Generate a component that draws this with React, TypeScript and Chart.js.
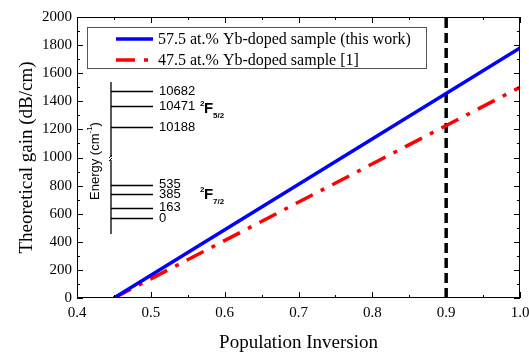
import React, { useEffect, useRef } from "react";
import { Chart, registerables } from "chart.js";
Chart.register(...registerables);

const seriesLabels = ["57.5 at.% Yb-doped sample (this work)", "47.5 at.% Yb-doped sample [1]"];
const inversion = [0.45, 1.0];
const gainThisWork = [0, 1780];
const gainRef = [0, 1500];
const markerX = [0.9, 0.9];
const markerY = [0, 2000];
const upperLevels = [10188, 10471, 10682];
const lowerLevels = [0, 163, 385, 535];
const xRange = [0.4, 1.0];
const yRange = [0, 2000];
const xStep = 0.1;
const yStep = 200;

const SERIF = "'Liberation Serif', 'Times New Roman', serif";
const SANS = "'Liberation Sans', Arial, sans-serif";

const framePlugin = {
  id: "frame",
  afterDatasetsDraw(chart: any) {
    const { ctx, chartArea: ca, scales } = chart;
    const xs = scales.x, ys = scales.y;
    ctx.save();
    ctx.strokeStyle = "#000";
    ctx.lineWidth = 1;
    ctx.strokeRect(ca.left + 0.5, ca.top + 0.5, ca.right - ca.left - 1, ca.bottom - ca.top - 1);
    ctx.beginPath();
    const nx = Math.round((xRange[1] - xRange[0]) / (xStep / 2));
    for (let i = 0; i <= nx; i++) {
      const v = xRange[0] + (i * xStep) / 2;
      const px = Math.round(xs.getPixelForValue(v)) + 0.5;
      const len = i % 2 === 0 ? 6 : 3;
      ctx.moveTo(px, ca.bottom);
      ctx.lineTo(px, ca.bottom - len);
      ctx.moveTo(px, ca.top);
      ctx.lineTo(px, ca.top + len);
    }
    const ny = Math.round((yRange[1] - yRange[0]) / (yStep / 2));
    for (let i = 0; i <= ny; i++) {
      const v = yRange[0] + (i * yStep) / 2;
      const py = Math.round(ys.getPixelForValue(v)) + 0.5;
      const len = i % 2 === 0 ? 6 : 3;
      ctx.moveTo(ca.left, py);
      ctx.lineTo(ca.left + len, py);
      ctx.moveTo(ca.right, py);
      ctx.lineTo(ca.right - len, py);
    }
    ctx.stroke();
    ctx.restore();
  },
};

const legendPlugin = {
  id: "customLegend",
  afterDatasetsDraw(chart: any) {
    const { ctx, chartArea: ca } = chart;
    const L = ca.left, T = ca.top;
    ctx.save();
    ctx.strokeStyle = "#555";
    ctx.lineWidth = 1;
    ctx.fillStyle = "#fff";
    ctx.fillRect(L + 10, T + 10, 339, 41);
    ctx.strokeRect(L + 10.5, T + 10.5, 339, 41);
    [0, 1].forEach((i) => {
      const ds = chart.data.datasets[i];
      const y = T + 22 + i * 21;
      ctx.beginPath();
      ctx.strokeStyle = ds.borderColor;
      ctx.lineWidth = ds.borderWidth;
      ctx.setLineDash(ds.borderDash || []);
      ctx.moveTo(L + 39, y);
      ctx.lineTo(L + 76, y);
      ctx.stroke();
      ctx.setLineDash([]);
      ctx.fillStyle = "#000";
      ctx.font = `16px ${SERIF}`;
      ctx.textBaseline = "middle";
      ctx.textAlign = "left";
      ctx.fillText(ds.label, L + 81, y + 1);
    });
    ctx.restore();
  },
};

const insetPlugin = {
  id: "inset",
  afterDatasetsDraw(chart: any) {
    const { ctx, chartArea: ca } = chart;
    const L = ca.left, T = ca.top;
    const axX = L + 34;
    const upperY = (e: number) => T + 110 - (e - upperLevels[0]) * 0.073;
    const lowerY = (e: number) => T + 201 - e * 0.062;
    ctx.save();
    ctx.strokeStyle = "#000";
    ctx.lineWidth = 1.3;
    ctx.beginPath();
    ctx.moveTo(axX, T + 65);
    ctx.lineTo(axX, T + 217);
    upperLevels.forEach((e) => {
      const y = Math.round(upperY(e)) + 0.5;
      ctx.moveTo(axX, y);
      ctx.lineTo(axX + 42, y);
    });
    lowerLevels.forEach((e) => {
      const y = Math.round(lowerY(e)) + 0.5;
      ctx.moveTo(axX, y);
      ctx.lineTo(axX + 42, y);
    });
    ctx.stroke();
    ctx.fillStyle = "#fff";
    ctx.fillRect(axX - 2, T + 140, 4, 3);
    ctx.beginPath();
    ctx.lineWidth = 1;
    ctx.moveTo(axX - 2, T + 141);
    ctx.lineTo(axX + 1, T + 138);
    ctx.moveTo(axX - 2, T + 144);
    ctx.lineTo(axX + 1, T + 141);
    ctx.stroke();

    ctx.fillStyle = "#000";
    ctx.font = `13px ${SANS}`;
    ctx.textAlign = "left";
    ctx.textBaseline = "middle";
    upperLevels.forEach((e) => ctx.fillText(String(e), axX + 48, upperY(e)));
    lowerLevels.forEach((e) => ctx.fillText(String(e), axX + 48, lowerY(e)));

    const term = (x: number, y: number, j: string) => {
      ctx.font = `bold 8px ${SANS}`;
      ctx.textBaseline = "alphabetic";
      ctx.fillText("2", x, y - 2);
      ctx.font = `bold 15px ${SANS}`;
      ctx.fillText("F", x + 4, y + 5);
      ctx.font = `bold 8px ${SANS}`;
      ctx.fillText(j, x + 13, y + 10);
    };
    term(axX + 89, T + 91, "5/2");
    term(axX + 89, T + 177, "7/2");

    ctx.translate(L + 18, T + 144);
    ctx.rotate(-Math.PI / 2);
    ctx.textBaseline = "middle";
    ctx.font = `13px ${SANS}`;
    const p1 = "Energy (cm";
    const w1 = ctx.measureText(p1).width;
    ctx.font = `8px ${SANS}`;
    const w2 = ctx.measureText("-1").width;
    ctx.font = `13px ${SANS}`;
    const w3 = ctx.measureText(")").width;
    const start = -(w1 + w2 + w3) / 2;
    ctx.fillText(p1, start, 0);
    ctx.font = `8px ${SANS}`;
    ctx.fillText("-1", start + w1, -5);
    ctx.font = `13px ${SANS}`;
    ctx.fillText(")", start + w1 + w2, 0);
    ctx.restore();
  },
};

export default function App() {
  const ref = useRef<HTMLCanvasElement>(null);
  useEffect(() => {
    if (!ref.current) return;
    const chart = new Chart(ref.current, {
      type: "line",
      data: {
        datasets: [
          {
            label: seriesLabels[0],
            data: inversion.map((x, i) => ({ x, y: gainThisWork[i] })),
            borderColor: "#0000ff",
            borderWidth: 3.5,
            pointRadius: 0,
          },
          {
            label: seriesLabels[1],
            data: inversion.map((x, i) => ({ x, y: gainRef[i] })),
            borderColor: "#ff0000",
            borderWidth: 3.5,
            borderDash: [19, 9, 4, 9],
            pointRadius: 0,
          },
          {
            label: "marker",
            data: markerX.map((x, i) => ({ x, y: markerY[i] })),
            borderColor: "#000",
            borderWidth: 3.5,
            borderDash: [10, 5],
            pointRadius: 0,
          },
        ],
      },
      options: {
        animation: false,
        responsive: false,
        devicePixelRatio: 1,
        layout: { padding: { top: 17, right: 9, left: 0, bottom: 0 } },
        plugins: { legend: { display: false }, tooltip: { enabled: false } },
        scales: {
          x: {
            type: "linear",
            min: xRange[0],
            max: xRange[1],
            grid: { display: false, drawTicks: false },
            border: { display: false },
            ticks: {
              stepSize: xStep,
              padding: 6,
              color: "#000",
              font: { family: SERIF, size: 15 },
              callback: (v: any) => Number(v).toFixed(1),
            },
            title: {
              display: true,
              text: "Population Inversion",
              color: "#000",
              font: { family: SERIF, size: 19 },
              padding: { top: 0, bottom: 0 },
            },
            afterFit: (s: any) => {
              s.height = 56;
              s.paddingLeft = 0;
              s.paddingRight = 0;
            },
          },
          y: {
            type: "linear",
            min: yRange[0],
            max: yRange[1],
            grid: { display: false, drawTicks: false },
            border: { display: false },
            ticks: {
              stepSize: yStep,
              padding: 5,
              color: "#000",
              font: { family: SERIF, size: 15 },
              callback: (v: any) => String(Math.round(Number(v))),
            },
            title: {
              display: true,
              text: "Theoretical gain (dB/cm)",
              color: "#000",
              font: { family: SERIF, size: 19 },
              padding: { top: 16, bottom: 0 },
            },
            afterFit: (s: any) => {
              s.width = 77;
              s.paddingTop = 0;
              s.paddingBottom = 0;
            },
          },
        },
      } as any,
      plugins: [framePlugin, insetPlugin, legendPlugin],
    });
    return () => chart.destroy();
  }, []);
  return (
    <div style={{ position: "fixed", left: 0, top: 0, width: 529, height: 354, background: "#fff" }}>
      <canvas ref={ref} width={529} height={354} />
    </div>
  );
}
